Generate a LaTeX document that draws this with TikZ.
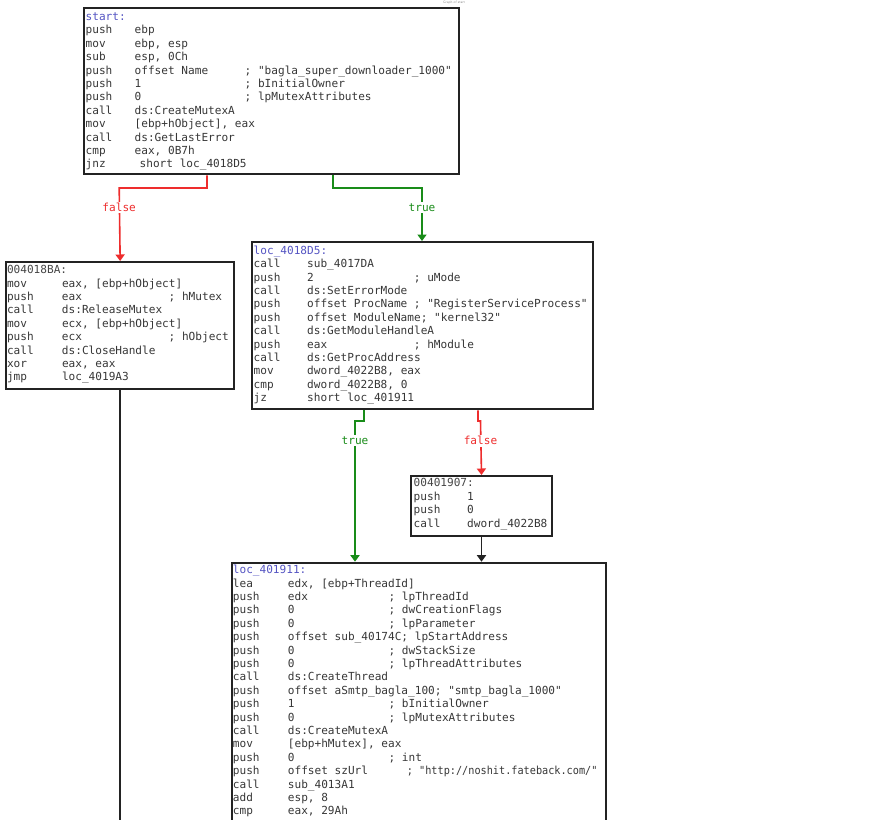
\documentclass[tikz,border=0pt]{standalone}
\usepackage{fontspec}
\usepackage{graphicx}
\usetikzlibrary{arrows.meta}
\newfontfamily\codefont{DejaVu Sans Mono}
\definecolor{codetext}{RGB}{55,55,55}
\definecolor{lblblue}{RGB}{85,85,195}
\definecolor{addrgray}{RGB}{70,70,70}
\definecolor{edgered}{RGB}{238,45,45}
\definecolor{edgegreen}{RGB}{25,140,25}
\definecolor{boxline}{RGB}{35,35,35}
\newlength\opw
\newlength\cmw
\newcommand\asm[3]{\strut\makebox[\opw][l]{#1}\makebox[\cmw][l]{#2}#3}
\newcommand\lbl[1]{\strut{\color{lblblue}#1}}
\newcommand\addr[1]{\strut{\color{addrgray}#1}}
\newcommand\cols[2]{\setlength\opw{#1}\setlength\cmw{#2}\spaceskip=0.602em plus 0pt minus 0pt\relax\xspaceskip=0.602em plus 0pt minus 0pt\relax}
\begin{document}
\begin{tikzpicture}[x=1pt,y=-1pt,
  block/.style={draw=boxline, line width=2pt, fill=white, inner sep=0pt, anchor=north west},
  asmtext/.style={inner sep=0pt, anchor=north west, text width=380pt, align=left, text=codetext,
    font=\codefont\fontsize{11.1}{13.4}\selectfont},
  conn/.style={line width=1.6pt},
  arrowed/.style={-{Triangle[width=9pt,length=6.5pt]}},
  elabel/.style={font=\codefont\fontsize{11.1}{13.4}\selectfont, fill=white, inner sep=1.5pt}
]
\useasboundingbox (0,0) rectangle (885,819);
\clip (0,0) rectangle (885,819);
\fill[white] (0,0) rectangle (885,819);

\node[font=\sffamily\fontsize{3.5}{4}\selectfont, text=black!45, inner sep=0pt] (gtitle) at (454,2.3) {Graph of start};

% blocks
\node[block, minimum width=375pt, minimum height=166pt] (top) at (83,7.3) {};
\node[block, minimum width=228.3pt, minimum height=127.3pt] (left) at (5,261) {};
\node[block, minimum width=340.7pt, minimum height=167.3pt] (mid) at (251,241) {};
\node[block, minimum width=141pt, minimum height=60pt] (small) at (410,475) {};
\node[block, minimum width=374.3pt, minimum height=280pt] (bot) at (230.7,561.7) {};

% texts
\node[asmtext, xshift=2.5pt, yshift=-3.6pt] (toptxt) at (top.north west) {\cols{49pt}{110pt}%
\lbl{start:}\\
\asm{push}{ebp}{}\\
\asm{mov}{ebp, esp}{}\\
\asm{sub}{esp, 0Ch}{}\\
\asm{push}{offset Name}{; "bagla\_super\_downloader\_1000"}\\
\asm{push}{1}{; bInitialOwner}\\
\asm{push}{0}{; lpMutexAttributes}\\
\asm{call}{ds:CreateMutexA}{}\\
\asm{mov}{[ebp+hObject], eax}{}\\
\asm{call}{ds:GetLastError}{}\\
\asm{cmp}{eax, 0B7h}{}\\
\asm{jnz}{\hspace*{5pt}short loc\_4018D5}{}};

\node[asmtext, xshift=1.8pt, yshift=-3.1pt] (lefttxt) at (left.north west) {\cols{55pt}{106.7pt}%
\addr{004018BA:}\\
\asm{mov}{eax, [ebp+hObject]}{}\\
\asm{push}{eax}{; hMutex}\\
\asm{call}{ds:ReleaseMutex}{}\\
\asm{mov}{ecx, [ebp+hObject]}{}\\
\asm{push}{ecx}{; hObject}\\
\asm{call}{ds:CloseHandle}{}\\
\asm{xor}{eax, eax}{}\\
\asm{jmp}{loc\_4019A3}{}};

\node[asmtext, xshift=2.5pt, yshift=-3.8pt] (midtxt) at (mid.north west) {\cols{53.5pt}{106.7pt}%
\lbl{loc\_4018D5:}\\
\asm{call}{sub\_4017DA}{}\\
\asm{push}{2}{; uMode}\\
\asm{call}{ds:SetErrorMode}{}\\
\asm{push}{offset ProcName}{; "RegisterServiceProcess"}\\
\asm{push}{offset ModuleName; "kernel32"}{}\\
\asm{call}{ds:GetModuleHandleA}{}\\
\asm{push}{eax}{; hModule}\\
\asm{call}{ds:GetProcAddress}{}\\
\asm{mov}{dword\_4022B8, eax}{}\\
\asm{cmp}{dword\_4022B8, 0}{}\\
\asm{jz}{short loc\_401911}{}};

\node[asmtext, xshift=3.5pt, yshift=-2.4pt] (smalltxt) at (small.north west) {\cols{53.5pt}{80pt}%
\addr{00401907:}\\
\asm{push}{1}{}\\
\asm{push}{0}{}\\
\asm{call}{dword\_4022B8}{}};

\node[asmtext, xshift=2pt, yshift=-2.4pt] (bottxt) at (bot.north west) {\cols{55pt}{100.7pt}%
\lbl{loc\_401911:}\\
\asm{lea}{edx, [ebp+ThreadId]}{}\\
\asm{push}{edx}{; lpThreadId}\\
\asm{push}{0}{; dwCreationFlags}\\
\asm{push}{0}{; lpParameter}\\
\asm{push}{offset sub\_40174C; lpStartAddress}{}\\
\asm{push}{0}{; dwStackSize}\\
\asm{push}{0}{; lpThreadAttributes}\\
\asm{call}{ds:CreateThread}{}\\
\asm{push}{offset aSmtp\_bagla\_100; "smtp\_bagla\_1000"}{}\\
\asm{push}{1}{; bInitialOwner}\\
\asm{push}{0}{; lpMutexAttributes}\\
\asm{call}{ds:CreateMutexA}{}\\
\asm{mov}{[ebp+hMutex], eax}{}\\
\asm{push}{0}{; int}\\
\asm{push}{\makebox[119pt][l]{offset szUrl}\scalebox{0.92}[1]{; "http://noshit.fateback.com/"}}{}\\
\asm{call}{sub\_4013A1}{}\\
\asm{add}{esp, 8}{}\\
\asm{cmp}{eax, 29Ah}{}};

% connectors
\coordinate (leftout) at (119.2,830);
\draw[conn, draw=boxline] (left.south) -- (left.south |- leftout);

\draw[conn, arrowed, draw=edgered] (207,0 |- top.south) -- (207,188) -- (119.2,188) -- (left.north);
\draw[conn, arrowed, draw=edgegreen] (333,0 |- top.south) -- (333,188) -- (422,188) -- (422,0 |- mid.north);
\draw[conn, arrowed, draw=edgegreen] (364,0 |- mid.south) -- (364,421) -- (355,421) -- (355,0 |- bot.north);
\draw[conn, arrowed, draw=edgered] (478,0 |- mid.south) -- (478,421) -- (480.5,421) -- (small.north);
\draw[conn, arrowed, draw=boxline] (small.south) -- (small.south |- bot.north);

% edge labels
\node[elabel, text=edgered] (lf1) at (119.2,207.5) {false};
\node[elabel, text=edgegreen] (lt1) at (422,207.5) {true};
\node[elabel, text=edgegreen] (lt2) at (355,440.7) {true};
\node[elabel, text=edgered] (lf2) at (480.5,440.7) {false};
\end{tikzpicture}
\end{document}
